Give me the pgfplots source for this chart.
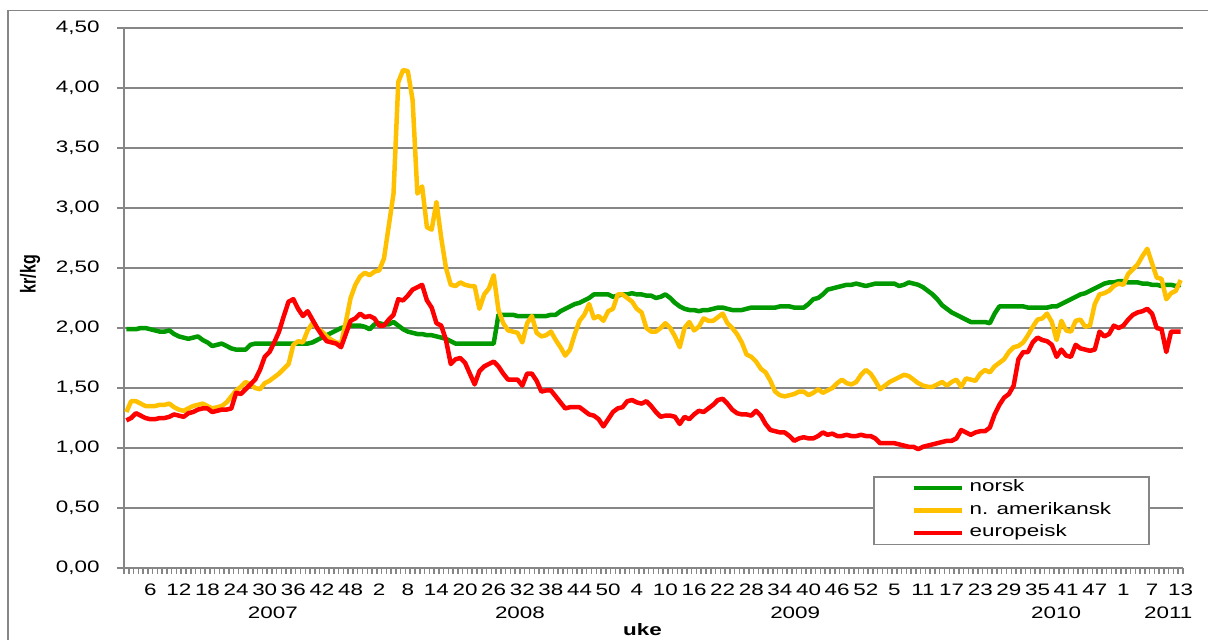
\documentclass[border=0pt]{standalone}
\usepackage{fontspec}
\setmainfont{Liberation Sans}[FakeStretch=1.35]
\newfontfamily\plainfont{Liberation Sans}
\usepackage{graphicx}
\usepackage{pgfplots}
\usepackage{pgfplotstable}
\pgfplotsset{compat=1.18}
\definecolor{cgreen}{RGB}{0,153,0}
\definecolor{cyellow}{RGB}{255,192,0}
\definecolor{cred}{RGB}{255,0,0}
\definecolor{axgray}{RGB}{134,134,134}

\pgfplotstableread[row sep=\\]{i v\\
1 1.99\\2 1.99\\3 1.99\\4 2.00\\5 2.00\\6 1.99\\7 1.98\\8 1.97\\9 1.97\\10 1.98\\
11 1.95\\12 1.93\\13 1.92\\14 1.91\\15 1.92\\16 1.93\\17 1.90\\18 1.88\\19 1.85\\20 1.86\\
21 1.87\\22 1.85\\23 1.83\\24 1.82\\25 1.82\\26 1.82\\27 1.86\\28 1.87\\29 1.87\\30 1.87\\
31 1.87\\32 1.87\\33 1.87\\34 1.87\\35 1.87\\36 1.87\\37 1.87\\38 1.87\\39 1.87\\40 1.88\\
41 1.90\\42 1.92\\43 1.94\\44 1.96\\45 1.98\\46 2.00\\47 2.01\\48 2.02\\49 2.02\\50 2.02\\
51 2.01\\52 1.99\\53 2.03\\54 2.04\\55 2.03\\56 2.03\\57 2.05\\58 2.02\\59 1.99\\60 1.97\\
61 1.96\\62 1.95\\63 1.95\\64 1.94\\65 1.94\\66 1.93\\67 1.92\\68 1.91\\69 1.89\\70 1.87\\
71 1.87\\72 1.87\\73 1.87\\74 1.87\\75 1.87\\76 1.87\\77 1.87\\78 1.87\\79 2.11\\80 2.11\\
81 2.11\\82 2.11\\83 2.10\\84 2.10\\85 2.10\\86 2.10\\87 2.10\\88 2.10\\89 2.10\\90 2.11\\
91 2.11\\92 2.14\\93 2.16\\94 2.18\\95 2.20\\96 2.21\\97 2.23\\98 2.25\\99 2.28\\100 2.28\\
101 2.28\\102 2.28\\103 2.26\\104 2.27\\105 2.28\\106 2.28\\107 2.29\\108 2.28\\109 2.28\\110 2.27\\
111 2.27\\112 2.25\\113 2.26\\114 2.28\\115 2.25\\116 2.21\\117 2.18\\118 2.16\\119 2.15\\120 2.15\\
121 2.14\\122 2.15\\123 2.15\\124 2.16\\125 2.17\\126 2.17\\127 2.16\\128 2.15\\129 2.15\\130 2.15\\
131 2.16\\132 2.17\\133 2.17\\134 2.17\\135 2.17\\136 2.17\\137 2.17\\138 2.18\\139 2.18\\140 2.18\\
141 2.17\\142 2.17\\143 2.17\\144 2.20\\145 2.24\\146 2.25\\147 2.28\\148 2.32\\149 2.33\\150 2.34\\
151 2.35\\152 2.36\\153 2.36\\154 2.37\\155 2.36\\156 2.35\\157 2.36\\158 2.37\\159 2.37\\160 2.37\\
161 2.37\\162 2.37\\163 2.35\\164 2.36\\165 2.38\\166 2.37\\167 2.36\\168 2.34\\169 2.31\\170 2.28\\
171 2.24\\172 2.19\\173 2.16\\174 2.13\\175 2.11\\176 2.09\\177 2.07\\178 2.05\\179 2.05\\180 2.05\\
181 2.05\\182 2.04\\183 2.12\\184 2.18\\185 2.18\\186 2.18\\187 2.18\\188 2.18\\189 2.18\\190 2.17\\
191 2.17\\192 2.17\\193 2.17\\194 2.17\\195 2.18\\196 2.18\\197 2.20\\198 2.22\\199 2.24\\200 2.26\\
201 2.28\\202 2.29\\203 2.31\\204 2.33\\205 2.35\\206 2.37\\207 2.38\\208 2.38\\209 2.39\\210 2.39\\
211 2.38\\212 2.38\\213 2.38\\214 2.37\\215 2.37\\216 2.36\\217 2.36\\218 2.35\\219 2.36\\220 2.36\\
221 2.35\\222 2.36\\
}\norsk

\pgfplotstableread[row sep=\\]{i v\\
1 1.30\\2 1.39\\3 1.39\\4 1.37\\5 1.35\\6 1.35\\7 1.35\\8 1.36\\9 1.36\\10 1.37\\
11 1.34\\12 1.32\\13 1.31\\14 1.33\\15 1.35\\16 1.36\\17 1.37\\18 1.35\\19 1.33\\20 1.34\\
21 1.35\\22 1.38\\23 1.43\\24 1.48\\25 1.51\\26 1.55\\27 1.53\\28 1.50\\29 1.49\\30 1.54\\
31 1.56\\32 1.59\\33 1.62\\34 1.66\\35 1.70\\36 1.86\\37 1.89\\38 1.88\\39 1.98\\40 2.04\\
41 2.00\\42 1.97\\43 1.93\\44 1.90\\45 1.88\\46 1.87\\47 2.05\\48 2.25\\49 2.36\\50 2.43\\
51 2.46\\52 2.44\\53 2.47\\54 2.48\\55 2.58\\56 2.85\\57 3.12\\58 4.05\\59 4.15\\60 4.14\\
61 3.90\\62 3.12\\63 3.18\\64 2.84\\65 2.82\\66 3.05\\67 2.75\\68 2.50\\69 2.36\\70 2.35\\
71 2.38\\72 2.36\\73 2.35\\74 2.35\\75 2.16\\76 2.28\\77 2.33\\78 2.44\\79 2.15\\80 2.04\\
81 1.98\\82 1.97\\83 1.96\\84 1.88\\85 2.04\\86 2.10\\87 1.96\\88 1.93\\89 1.94\\90 1.97\\
91 1.90\\92 1.84\\93 1.77\\94 1.82\\95 1.95\\96 2.06\\97 2.11\\98 2.20\\99 2.08\\100 2.10\\
101 2.06\\102 2.14\\103 2.16\\104 2.28\\105 2.28\\106 2.25\\107 2.22\\108 2.16\\109 2.13\\110 2.00\\
111 1.97\\112 1.97\\113 2.00\\114 2.04\\115 2.00\\116 1.93\\117 1.84\\118 2.00\\119 2.05\\120 1.98\\
121 2.01\\122 2.08\\123 2.06\\124 2.06\\125 2.09\\126 2.12\\127 2.04\\128 2.00\\129 1.95\\130 1.88\\
131 1.78\\132 1.76\\133 1.72\\134 1.66\\135 1.63\\136 1.56\\137 1.47\\138 1.44\\139 1.43\\140 1.44\\
141 1.45\\142 1.47\\143 1.47\\144 1.44\\145 1.46\\146 1.49\\147 1.46\\148 1.48\\149 1.50\\150 1.54\\
151 1.57\\152 1.54\\153 1.53\\154 1.55\\155 1.61\\156 1.65\\157 1.62\\158 1.56\\159 1.49\\160 1.52\\
161 1.55\\162 1.57\\163 1.59\\164 1.61\\165 1.60\\166 1.57\\167 1.54\\168 1.52\\169 1.51\\170 1.51\\
171 1.53\\172 1.55\\173 1.52\\174 1.55\\175 1.57\\176 1.51\\177 1.58\\178 1.57\\179 1.56\\180 1.62\\
181 1.65\\182 1.63\\183 1.68\\184 1.71\\185 1.74\\186 1.80\\187 1.84\\188 1.85\\189 1.88\\190 1.94\\
191 2.01\\192 2.07\\193 2.08\\194 2.12\\195 2.05\\196 1.90\\197 2.06\\198 1.98\\199 1.97\\200 2.06\\
201 2.07\\202 2.01\\203 2.02\\204 2.20\\205 2.28\\206 2.29\\207 2.31\\208 2.35\\209 2.37\\210 2.36\\
211 2.45\\212 2.49\\213 2.53\\214 2.60\\215 2.66\\216 2.54\\217 2.42\\218 2.41\\219 2.24\\220 2.29\\
221 2.31\\222 2.40\\
}\amerikansk

\pgfplotstableread[row sep=\\]{i v\\
1 1.23\\2 1.25\\3 1.29\\4 1.27\\5 1.25\\6 1.24\\7 1.24\\8 1.25\\9 1.25\\10 1.26\\
11 1.28\\12 1.27\\13 1.26\\14 1.29\\15 1.30\\16 1.32\\17 1.33\\18 1.33\\19 1.30\\20 1.31\\
21 1.32\\22 1.32\\23 1.33\\24 1.46\\25 1.45\\26 1.49\\27 1.53\\28 1.57\\29 1.65\\30 1.76\\
31 1.80\\32 1.88\\33 1.97\\34 2.10\\35 2.22\\36 2.24\\37 2.16\\38 2.10\\39 2.14\\40 2.07\\
41 2.00\\42 1.94\\43 1.89\\44 1.88\\45 1.87\\46 1.84\\47 1.95\\48 2.06\\49 2.08\\50 2.12\\
51 2.09\\52 2.10\\53 2.08\\54 2.02\\55 2.02\\56 2.07\\57 2.11\\58 2.24\\59 2.23\\60 2.27\\
61 2.32\\62 2.34\\63 2.36\\64 2.23\\65 2.17\\66 2.04\\67 2.02\\68 1.90\\69 1.70\\70 1.74\\
71 1.75\\72 1.71\\73 1.62\\74 1.53\\75 1.64\\76 1.68\\77 1.70\\78 1.72\\79 1.68\\80 1.62\\
81 1.57\\82 1.57\\83 1.57\\84 1.52\\85 1.62\\86 1.62\\87 1.56\\88 1.47\\89 1.48\\90 1.48\\
91 1.43\\92 1.38\\93 1.33\\94 1.34\\95 1.34\\96 1.34\\97 1.31\\98 1.28\\99 1.27\\100 1.24\\
101 1.18\\102 1.24\\103 1.30\\104 1.33\\105 1.34\\106 1.39\\107 1.40\\108 1.38\\109 1.37\\110 1.39\\
111 1.35\\112 1.30\\113 1.26\\114 1.27\\115 1.27\\116 1.26\\117 1.20\\118 1.26\\119 1.24\\120 1.28\\
121 1.31\\122 1.30\\123 1.33\\124 1.36\\125 1.40\\126 1.41\\127 1.37\\128 1.32\\129 1.29\\130 1.28\\
131 1.28\\132 1.27\\133 1.31\\134 1.27\\135 1.20\\136 1.15\\137 1.14\\138 1.13\\139 1.13\\140 1.10\\
141 1.06\\142 1.08\\143 1.09\\144 1.08\\145 1.08\\146 1.10\\147 1.13\\148 1.11\\149 1.12\\150 1.10\\
151 1.10\\152 1.11\\153 1.10\\154 1.10\\155 1.11\\156 1.10\\157 1.10\\158 1.08\\159 1.04\\160 1.04\\
161 1.04\\162 1.04\\163 1.03\\164 1.02\\165 1.01\\166 1.01\\167 0.99\\168 1.01\\169 1.02\\170 1.03\\
171 1.04\\172 1.05\\173 1.06\\174 1.06\\175 1.08\\176 1.15\\177 1.13\\178 1.11\\179 1.13\\180 1.14\\
181 1.14\\182 1.17\\183 1.28\\184 1.36\\185 1.42\\186 1.45\\187 1.52\\188 1.74\\189 1.80\\190 1.80\\
191 1.88\\192 1.92\\193 1.90\\194 1.89\\195 1.86\\196 1.76\\197 1.82\\198 1.77\\199 1.76\\200 1.86\\
201 1.83\\202 1.82\\203 1.81\\204 1.82\\205 1.97\\206 1.93\\207 1.95\\208 2.02\\209 2.00\\210 2.02\\
211 2.07\\212 2.11\\213 2.13\\214 2.14\\215 2.16\\216 2.12\\217 2.00\\218 1.99\\219 1.80\\220 1.97\\
221 1.97\\222 1.97\\
}\europeisk

\begin{document}
\begin{tikzpicture}[font=\fontsize{8.3}{10}\selectfont]
\useasboundingbox (0,0) rectangle (604pt,319.5pt);
\draw[axgray, line width=0.75pt] (4pt,-1pt) -- (4pt,314.15pt) -- (605pt,314.15pt);
\begin{axis}[
  at={(62pt,35.5pt)}, anchor=south west,
  scale only axis, width=529.5pt, height=270pt,
  xmin=0.5, xmax=222.5, ymin=0, ymax=4.5,
  axis x line*=bottom, axis y line*=left,
  axis line style={axgray, line width=0.75pt},
  tick align=outside,
  major tick length=3.5pt, minor tick length=2.75pt,
  tick style={axgray, line width=0.75pt},
  major x tick style={draw=none},
  ytick={0,0.5,1,1.5,2,2.5,3,3.5,4,4.5},
  ymajorgrids, major grid style={axgray, line width=0.75pt},
  xtick={6,12,...,222},
  xticklabels={6,12,18,24,30,36,42,48,2,8,14,20,26,32,38,44,50,4,10,16,22,28,34,40,46,52,5,11,17,23,29,35,41,47,1,7,13},
  minor xtick={0.5,1.5,...,222.5},
  extra x ticks={31.7,83.5,141.2,195.9,219.4},
  extra x tick labels={2007,2008,2009,2010,2011},
  extra x tick style={grid=none, tick label style={yshift=-11.5pt}},
  xticklabel style={anchor=base, inner sep=0pt, yshift=-10pt},
  yticklabel style={anchor=east, inner sep=0pt, xshift=-8.5pt,
    /pgf/number format/.cd, fixed, fixed zerofill, precision=2, use comma, assume math mode=true},
  no markers,
  legend style={at={(0.9688,0.0426)}, anchor=south east, draw=axgray, line width=0.75pt,
    fill=white, inner xsep=19pt, inner ysep=0pt, row sep=0pt, column sep=2.5pt,
    nodes={inner sep=0pt, text height=7.5pt, text depth=3.75pt},
    font=\fontsize{8.3}{10}\selectfont},
  legend cell align=left,
  legend image code/.code={\draw[#1] (0pt,0pt) -- (24pt,0pt);},
]
\addplot[cgreen, line width=2.25pt, line join=round] table[x=i,y=v]{\norsk};
\addlegendentry{norsk}
\addplot[cyellow, line width=2.25pt, line join=round] table[x=i,y=v]{\amerikansk};
\addlegendentry{n. amerikansk}
\addplot[cred, line width=2.25pt, line join=round] table[x=i,y=v]{\europeisk};
\addlegendentry{europeisk}
\end{axis}
\node[rotate=90] at (15pt,182.5pt) {\scalebox{1}[1.35]{\plainfont\bfseries\fontsize{8}{9.6}\selectfont kr/kg}};
\node[anchor=base] at (321.25pt,2pt) {\bfseries uke};
\end{tikzpicture}
\end{document}
